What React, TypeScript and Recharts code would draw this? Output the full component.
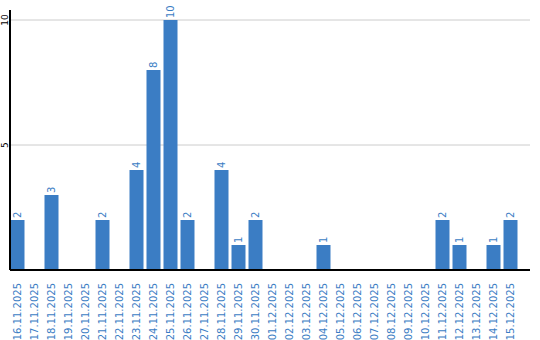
import { BarChart, Bar, XAxis, YAxis, CartesianGrid, LabelList } from 'recharts'

const dates = [
  '16.11.2025', '17.11.2025', '18.11.2025', '19.11.2025', '20.11.2025',
  '21.11.2025', '22.11.2025', '23.11.2025', '24.11.2025', '25.11.2025',
  '26.11.2025', '27.11.2025', '28.11.2025', '29.11.2025', '30.11.2025',
  '01.12.2025', '02.12.2025', '03.12.2025', '04.12.2025', '05.12.2025',
  '06.12.2025', '07.12.2025', '08.12.2025', '09.12.2025', '10.12.2025',
  '11.12.2025', '12.12.2025', '13.12.2025', '14.12.2025', '15.12.2025',
]
const counts = [
  2, 0, 3, 0, 0,
  2, 0, 4, 8, 10,
  2, 0, 4, 1, 2,
  0, 0, 0, 1, 0,
  0, 0, 0, 0, 0,
  2, 1, 0, 1, 2,
]
const yTicks = [5, 10]

const BLUE = '#3b7dc4'
const FONT = '"DejaVu Sans", sans-serif'

const data = dates.map((date, i) => ({ date, count: counts[i] }))

function XTick({ x, y, payload }: any) {
  return (
    <text
      x={x}
      y={y}
      transform={`rotate(-90, ${x}, ${y})`}
      textAnchor="end"
      dominantBaseline="central"
      fill={BLUE}
      fontSize={10}
      fontFamily={FONT}
    >
      {payload.value}
    </text>
  )
}

function YTick({ y, payload }: any) {
  const x = 5
  return (
    <text
      x={x}
      y={y}
      transform={`rotate(-90, ${x}, ${y})`}
      textAnchor="middle"
      dominantBaseline="central"
      fill="#000"
      fontSize={9}
      fontFamily={FONT}
    >
      {payload.value}
    </text>
  )
}

function ValueLabel({ x, y, width, value }: any) {
  if (!value) return null
  const cx = x + width / 2
  const cy = y - 2
  return (
    <text
      x={cx}
      y={cy}
      transform={`rotate(-90, ${cx}, ${cy})`}
      textAnchor="start"
      dominantBaseline="central"
      fill={BLUE}
      fontSize={10}
      fontFamily={FONT}
    >
      {value}
    </text>
  )
}

export default function App() {
  return (
    <div style={{ position: 'absolute', left: 0, top: 0, width: 540, height: 340, background: '#fff' }}>
      <BarChart
        width={540}
        height={340}
        data={data}
        margin={{ top: 10, right: 10, left: 0, bottom: 0 }}
      >
        <CartesianGrid vertical={false} horizontalValues={yTicks} stroke="#cccccc" />
        <XAxis
          dataKey="date"
          interval={0}
          tickLine={false}
          axisLine={{ stroke: '#000', strokeWidth: 2 }}
          tick={<XTick />}
          tickMargin={7}
          padding={{ left: -1.5, right: 11.5 }}
          height={70}
        />
        <YAxis
          width={10}
          domain={[0, 10.4]}
          ticks={yTicks}
          tickLine={false}
          axisLine={{ stroke: '#000', strokeWidth: 2 }}
          tick={<YTick />}
        />
        <Bar dataKey="count" fill={BLUE} barSize={14} isAnimationActive={false}>
          <LabelList dataKey="count" content={<ValueLabel />} />
        </Bar>
      </BarChart>
    </div>
  )
}
